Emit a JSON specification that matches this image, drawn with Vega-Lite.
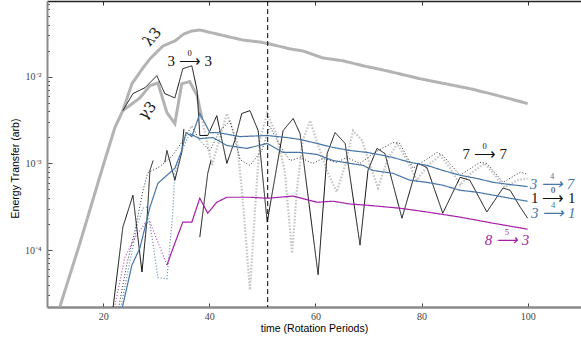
{
 "$schema": "https://vega.github.io/schema/vega-lite/v6.json",
 "width": 534, "height": 306,
 "autosize": {"type": "none"},
 "padding": {"left": 47, "top": 1, "right": 0, "bottom": 33},
 "background": "white",
 "config": {"view": {"stroke": null}, "axis": {"grid": false}},
 "resolve": {"axis": {"x": "independent", "y": "independent"}},
 "datasets": {
  "lines": [
   {"s":"L","k":"grey","t":11.6,"v":2.0e-5},{"s":"L","k":"grey","t":15.6,"v":1.2e-4},{"s":"L","k":"grey","t":20.0,"v":9.5e-4},{"s":"L","k":"grey","t":22.2,"v":2.6e-3},{"s":"L","k":"grey","t":23.7,"v":4.07e-3},{"s":"L","k":"grey","t":25.4,"v":8.3e-3},{"s":"L","k":"grey","t":27.5,"v":1.27e-2},{"s":"L","k":"grey","t":28.8,"v":1.61e-2},{"s":"L","k":"grey","t":31.25,"v":2.27e-2},{"s":"L","k":"grey","t":33.5,"v":2.59e-2},{"s":"L","k":"grey","t":35.2,"v":3.12e-2},{"s":"L","k":"grey","t":36.7,"v":3.38e-2},{"s":"L","k":"grey","t":38.2,"v":3.47e-2},{"s":"L","k":"grey","t":41.4,"v":3.12e-2},{"s":"L","k":"grey","t":46.3,"v":2.66e-2},{"s":"L","k":"grey","t":49.5,"v":2.52e-2},{"s":"L","k":"grey","t":51.4,"v":2.39e-2},{"s":"L","k":"grey","t":55.2,"v":2.10e-2},{"s":"L","k":"grey","t":57.6,"v":1.99e-2},{"s":"L","k":"grey","t":61.4,"v":1.65e-2},{"s":"L","k":"grey","t":65.2,"v":1.53e-2},{"s":"L","k":"grey","t":69.0,"v":1.34e-2},{"s":"L","k":"grey","t":72.7,"v":1.20e-2},{"s":"L","k":"grey","t":75.9,"v":1.08e-2},{"s":"L","k":"grey","t":79.7,"v":9.5e-3},{"s":"L","k":"grey","t":84.5,"v":8.3e-3},{"s":"L","k":"grey","t":89.1,"v":7.3e-3},{"s":"L","k":"grey","t":92.9,"v":6.4e-3},{"s":"L","k":"grey","t":96.1,"v":5.7e-3},{"s":"L","k":"grey","t":100,"v":4.9e-3},
   {"s":"G1","k":"grey","t":23.7,"v":4.07e-3},{"s":"G1","k":"grey","t":26.9,"v":5.7e-3},{"s":"G1","k":"grey","t":28.8,"v":7.9e-3},{"s":"G1","k":"grey","t":30.3,"v":8.5e-3},{"s":"G1","k":"grey","t":32.0,"v":3.86e-3},{"s":"G1","k":"grey","t":33.5,"v":2.88e-3},{"s":"G1","k":"grey","t":34.8,"v":8.3e-3},{"s":"G1","k":"grey","t":36.3,"v":8.8e-3},{"s":"G1","k":"grey","t":37.7,"v":6.05e-3},{"s":"G1","k":"grey","t":38.6,"v":3.3e-3},
   {"s":"G2","k":"greydot","t":38.6,"v":3.3e-3},{"s":"G2","k":"greydot","t":40.5,"v":9.5e-4},{"s":"G2","k":"greydot","t":43.3,"v":3.76e-3},{"s":"G2","k":"greydot","t":45.2,"v":1.84e-3},{"s":"G2","k":"greydot","t":46.3,"v":3.76e-4},{"s":"G2","k":"greydot","t":47.65,"v":3.47e-5},{"s":"G2","k":"greydot","t":48.6,"v":2.88e-4},{"s":"G2","k":"greydot","t":49.5,"v":1.84e-3},{"s":"G2","k":"greydot","t":50.9,"v":3.76e-3},{"s":"G2","k":"greydot","t":52.7,"v":2.1e-3},{"s":"G2","k":"greydot","t":54.2,"v":8.3e-4},{"s":"G2","k":"greydot","t":55.6,"v":9.2e-5},{"s":"G2","k":"greydot","t":56.5,"v":4.9e-4},{"s":"G2","k":"greydot","t":57.6,"v":1.84e-3},{"s":"G2","k":"greydot","t":59.0,"v":3.12e-3},{"s":"G2","k":"greydot","t":60.5,"v":1.61e-3},{"s":"G2","k":"greydot","t":62.3,"v":7.9e-4},{"s":"G2","k":"greydot","t":64.0,"v":4.7e-4},{"s":"G2","k":"greydot","t":65.6,"v":9.5e-4},{"s":"G2","k":"greydot","t":67.1,"v":2.39e-3},{"s":"G2","k":"greydot","t":68.8,"v":1.84e-3},{"s":"G2","k":"greydot","t":70.3,"v":9.5e-4},{"s":"G2","k":"greydot","t":71.8,"v":5.2e-4},{"s":"G2","k":"greydot","t":73.5,"v":1.08e-3},{"s":"G2","k":"greydot","t":75.4,"v":1.70e-3},{"s":"G2","k":"greydot","t":77.3,"v":1.08e-3},{"s":"G2","k":"greydot","t":79.1,"v":6.4e-4},{"s":"G2","k":"greydot","t":81.2,"v":9.5e-4},{"s":"G2","k":"greydot","t":83.5,"v":1.24e-3},{"s":"G2","k":"greydot","t":85.4,"v":8.8e-4},{"s":"G2","k":"greydot","t":87.3,"v":5.6e-4},{"s":"G2","k":"greydot","t":89.4,"v":7.8e-4},{"s":"G2","k":"greydot","t":91.9,"v":1.0e-3},{"s":"G2","k":"greydot","t":93.8,"v":7.3e-4},{"s":"G2","k":"greydot","t":95.7,"v":5.3e-4},{"s":"G2","k":"greydot","t":98.0,"v":6.4e-4},{"s":"G2","k":"greydot","t":100,"v":6.7e-4},
   {"s":"K","k":"blackdot","t":22.8,"v":2.0e-5},{"s":"K","k":"blackdot","t":24.5,"v":7.1e-5},{"s":"K","k":"blackdot","t":26.0,"v":1.7e-4},{"s":"K","k":"blackdot","t":27.5,"v":4.9e-4},{"s":"K","k":"blackdot","t":28.4,"v":7.8e-4},{"s":"K","k":"blackdot","t":30.7,"v":9.2e-4},{"s":"K","k":"blackdot","t":33.1,"v":1.24e-3},{"s":"K","k":"blackdot","t":35.0,"v":1.84e-3},{"s":"K","k":"blackdot","t":36.7,"v":2.7e-3},{"s":"K","k":"blackdot","t":38.2,"v":1.84e-3},{"s":"K","k":"blackdot","t":40.1,"v":1.41e-3},{"s":"K","k":"blackdot","t":42.0,"v":2.39e-3},{"s":"K","k":"blackdot","t":43.9,"v":3.1e-3},{"s":"K","k":"blackdot","t":45.8,"v":1.1e-3},{"s":"K","k":"blackdot","t":47.65,"v":9.5e-4},{"s":"K","k":"blackdot","t":49.9,"v":1.41e-3},{"s":"K","k":"blackdot","t":51.4,"v":2.7e-3},{"s":"K","k":"blackdot","t":53.3,"v":1.61e-3},{"s":"K","k":"blackdot","t":55.2,"v":1.08e-3},{"s":"K","k":"blackdot","t":57.1,"v":1.17e-3},{"s":"K","k":"blackdot","t":59.5,"v":1.0e-3},{"s":"K","k":"blackdot","t":61.4,"v":1.14e-3},{"s":"K","k":"blackdot","t":64.0,"v":1.03e-3},{"s":"K","k":"blackdot","t":65.9,"v":1.17e-3},{"s":"K","k":"blackdot","t":68.4,"v":1.0e-3},{"s":"K","k":"blackdot","t":71.2,"v":1.34e-3},{"s":"K","k":"blackdot","t":74.6,"v":1.74e-3},{"s":"K","k":"blackdot","t":75.9,"v":1.70e-3},{"s":"K","k":"blackdot","t":78.4,"v":8.8e-4},{"s":"K","k":"blackdot","t":80.6,"v":1.08e-3},{"s":"K","k":"blackdot","t":82.9,"v":1.34e-3},{"s":"K","k":"blackdot","t":84.0,"v":1.24e-3},{"s":"K","k":"blackdot","t":87.25,"v":7.3e-4},{"s":"K","k":"blackdot","t":91.0,"v":1.03e-3},{"s":"K","k":"blackdot","t":92.3,"v":1.0e-3},{"s":"K","k":"blackdot","t":95.35,"v":6.05e-4},{"s":"K","k":"blackdot","t":98.6,"v":7.9e-4},{"s":"K","k":"blackdot","t":100,"v":7.5e-4},
   {"s":"W0","k":"bluedot","t":23.2,"v":2.0e-5},{"s":"W0","k":"bluedot","t":24.7,"v":5.9e-5},{"s":"W0","k":"bluedot","t":26.5,"v":2.04e-4},{"s":"W0","k":"bluedot","t":27.5,"v":3.04e-4},{"s":"W0","k":"bluedot","t":28.2,"v":3.12e-4},{"s":"W0","k":"bluedot","t":29.2,"v":1.41e-4},{"s":"W0","k":"bluedot","t":30.3,"v":4.8e-5},{"s":"W0","k":"bluedot","t":32.0,"v":4.65e-5},{"s":"W0","k":"bluedot","t":33.1,"v":2.66e-4},{"s":"W0","k":"bluedot","t":33.5,"v":7.9e-4},{"s":"W0","k":"bluedot","t":34.8,"v":1.41e-3},{"s":"W0","k":"bluedot","t":36.3,"v":2.21e-3},
   {"s":"M0","k":"magdot","t":22.0,"v":2.0e-5},{"s":"M0","k":"magdot","t":24.1,"v":8.3e-5},{"s":"M0","k":"magdot","t":26.0,"v":1.41e-4},{"s":"M0","k":"magdot","t":27.9,"v":2.04e-4},{"s":"M0","k":"magdot","t":28.8,"v":2.1e-4},{"s":"M0","k":"magdot","t":32.0,"v":6.7e-5},
   {"s":"B1","k":"black","t":23.7,"v":4.07e-3},{"s":"B1","k":"black","t":25.6,"v":6.4e-3},{"s":"B1","k":"black","t":27.9,"v":7.5e-3},{"s":"B1","k":"black","t":30.1,"v":1.03e-2},{"s":"B1","k":"black","t":31.6,"v":6.4e-3},{"s":"B1","k":"black","t":33.5,"v":5.7e-3},{"s":"B1","k":"black","t":35.0,"v":1.24e-2},{"s":"B1","k":"black","t":36.7,"v":1.34e-2},{"s":"B1","k":"black","t":37.7,"v":6.9e-3},{"s":"B1","k":"black","t":38.2,"v":2.1e-3},{"s":"B1","k":"black","t":39.7,"v":2.1e-3},{"s":"B1","k":"black","t":41.4,"v":3.56e-3},{"s":"B1","k":"black","t":43.3,"v":1.0e-3},{"s":"B1","k":"black","t":44.8,"v":1.84e-3},{"s":"B1","k":"black","t":46.1,"v":3.76e-3},{"s":"B1","k":"black","t":47.65,"v":4.07e-3},{"s":"B1","k":"black","t":49.2,"v":2.39e-3},{"s":"B1","k":"black","t":50.9,"v":2.1e-4},{"s":"B1","k":"black","t":53.9,"v":2.39e-3},{"s":"B1","k":"black","t":55.8,"v":3.3e-3},{"s":"B1","k":"black","t":57.1,"v":2.21e-3},{"s":"B1","k":"black","t":60.5,"v":5.2e-5},{"s":"B1","k":"black","t":62.2,"v":1.3e-3},{"s":"B1","k":"black","t":63.7,"v":2.27e-3},{"s":"B1","k":"black","t":65.6,"v":1.70e-3},{"s":"B1","k":"black","t":68.4,"v":1.14e-4},{"s":"B1","k":"black","t":69.9,"v":8.3e-4},{"s":"B1","k":"black","t":71.6,"v":1.49e-3},{"s":"B1","k":"black","t":73.1,"v":1.30e-3},{"s":"B1","k":"black","t":76.3,"v":2.33e-4},{"s":"B1","k":"black","t":79.3,"v":1.0e-3},{"s":"B1","k":"black","t":81.0,"v":9.0e-4},{"s":"B1","k":"black","t":84.0,"v":2.66e-4},{"s":"B1","k":"black","t":87.25,"v":6.9e-4},{"s":"B1","k":"black","t":89.1,"v":6.4e-4},{"s":"B1","k":"black","t":92.3,"v":2.75e-4},{"s":"B1","k":"black","t":95.35,"v":5.2e-4},{"s":"B1","k":"black","t":96.7,"v":4.9e-4},{"s":"B1","k":"black","t":98.6,"v":3.12e-4},{"s":"B1","k":"black","t":100,"v":2.33e-4},
   {"s":"B2","k":"black","t":21.8,"v":2.04e-5},{"s":"B2","k":"black","t":23.7,"v":1.84e-4},{"s":"B2","k":"black","t":25.6,"v":4.29e-4},{"s":"B2","k":"black","t":27.3,"v":5.58e-5},{"s":"B2","k":"black","t":28.24,"v":2.21e-4},{"s":"B2","k":"black","t":28.8,"v":8.3e-4},{"s":"B2","k":"black","t":29.4,"v":1.08e-3},
   {"s":"B3","k":"black","t":31.6,"v":1.03e-3},{"s":"B3","k":"black","t":32.0,"v":1.41e-3},{"s":"B3","k":"black","t":33.5,"v":6.4e-4},{"s":"B3","k":"black","t":34.8,"v":1.34e-3},{"s":"B3","k":"black","t":35.2,"v":2.5e-3},
   {"s":"B4","k":"black","t":38.2,"v":1.41e-4},{"s":"B4","k":"black","t":39.7,"v":7.7e-4},{"s":"B4","k":"black","t":40.3,"v":1.08e-3},
   {"s":"U1","k":"blue","t":23.5,"v":2.04e-5},{"s":"U1","k":"blue","t":25.4,"v":6.7e-5},{"s":"U1","k":"blue","t":26.9,"v":1.05e-4},{"s":"U1","k":"blue","t":28.8,"v":3.12e-4},{"s":"U1","k":"blue","t":30.3,"v":5.9e-4},{"s":"U1","k":"blue","t":33.5,"v":8.8e-4},{"s":"U1","k":"blue","t":34.8,"v":1.41e-3},{"s":"U1","k":"blue","t":35.6,"v":2.27e-3},{"s":"U1","k":"blue","t":36.7,"v":2.04e-3},{"s":"U1","k":"blue","t":38.2,"v":3.76e-3},{"s":"U1","k":"blue","t":40.1,"v":2.27e-3},{"s":"U1","k":"blue","t":41.6,"v":2.27e-3},{"s":"U1","k":"blue","t":45.8,"v":2.04e-3},{"s":"U1","k":"blue","t":50.9,"v":2.1e-3},{"s":"U1","k":"blue","t":54.6,"v":1.99e-3},{"s":"U1","k":"blue","t":57.1,"v":1.89e-3},{"s":"U1","k":"blue","t":60.3,"v":1.70e-3},{"s":"U1","k":"blue","t":63.3,"v":1.53e-3},{"s":"U1","k":"blue","t":66.5,"v":1.41e-3},{"s":"U1","k":"blue","t":69.7,"v":1.34e-3},{"s":"U1","k":"blue","t":72.7,"v":1.24e-3},{"s":"U1","k":"blue","t":74.6,"v":1.17e-3},{"s":"U1","k":"blue","t":77.8,"v":1.03e-3},{"s":"U1","k":"blue","t":81.0,"v":9.5e-4},{"s":"U1","k":"blue","t":84.0,"v":8.3e-4},{"s":"U1","k":"blue","t":87.25,"v":7.3e-4},{"s":"U1","k":"blue","t":90.45,"v":6.7e-4},{"s":"U1","k":"blue","t":93.5,"v":6.05e-4},{"s":"U1","k":"blue","t":96.7,"v":5.7e-4},{"s":"U1","k":"blue","t":100,"v":5.4e-4},
   {"s":"W1","k":"blue","t":36.3,"v":2.21e-3},{"s":"W1","k":"blue","t":38.2,"v":1.93e-3},{"s":"W1","k":"blue","t":40.7,"v":1.99e-3},{"s":"W1","k":"blue","t":43.3,"v":1.61e-3},{"s":"W1","k":"blue","t":47.1,"v":1.49e-3},{"s":"W1","k":"blue","t":50.9,"v":1.70e-3},{"s":"W1","k":"blue","t":53.9,"v":1.34e-3},{"s":"W1","k":"blue","t":57.1,"v":1.34e-3},{"s":"W1","k":"blue","t":60.3,"v":1.27e-3},{"s":"W1","k":"blue","t":63.3,"v":1.08e-3},{"s":"W1","k":"blue","t":66.5,"v":1.0e-3},{"s":"W1","k":"blue","t":69.0,"v":9.5e-4},{"s":"W1","k":"blue","t":70.8,"v":8.3e-4},{"s":"W1","k":"blue","t":74.6,"v":7.7e-4},{"s":"W1","k":"blue","t":77.8,"v":6.4e-4},{"s":"W1","k":"blue","t":81.0,"v":6.05e-4},{"s":"W1","k":"blue","t":84.0,"v":5.6e-4},{"s":"W1","k":"blue","t":87.25,"v":4.9e-4},{"s":"W1","k":"blue","t":90.45,"v":4.65e-4},{"s":"W1","k":"blue","t":93.5,"v":4.3e-4},{"s":"W1","k":"blue","t":96.7,"v":3.96e-4},{"s":"W1","k":"blue","t":100,"v":3.66e-4},
   {"s":"M1","k":"mag","t":32.0,"v":6.7e-5},{"s":"M1","k":"mag","t":33.5,"v":1.2e-4},{"s":"M1","k":"mag","t":35.0,"v":2.1e-4},{"s":"M1","k":"mag","t":36.7,"v":2.1e-4},{"s":"M1","k":"mag","t":38.2,"v":3.96e-4},{"s":"M1","k":"mag","t":39.7,"v":2.66e-4},{"s":"M1","k":"mag","t":41.4,"v":3.56e-4},{"s":"M1","k":"mag","t":43.3,"v":4.07e-4},{"s":"M1","k":"mag","t":47.65,"v":4.07e-4},{"s":"M1","k":"mag","t":50.9,"v":3.96e-4},{"s":"M1","k":"mag","t":55.8,"v":4.2e-4},{"s":"M1","k":"mag","t":60.3,"v":3.56e-4},{"s":"M1","k":"mag","t":63.3,"v":3.66e-4},{"s":"M1","k":"mag","t":66.5,"v":3.40e-4},{"s":"M1","k":"mag","t":69.7,"v":3.29e-4},{"s":"M1","k":"mag","t":75.9,"v":3.04e-4},{"s":"M1","k":"mag","t":81.0,"v":2.75e-4},{"s":"M1","k":"mag","t":87.25,"v":2.4e-4},{"s":"M1","k":"mag","t":93.5,"v":2.04e-4},{"s":"M1","k":"mag","t":100,"v":1.74e-4}
  ],
  "vline": [{"t": 51}],
  "greek": [
   {"txt": "λ3", "t": 29.2, "v": 0.029},
   {"txt": "γ3", "t": 28.3, "v": 0.0041}
  ],
  "labels": [
   {"txt": "3 ⟶ 3", "sup": "0", "c": "black", "it": "n", "t": 36.3, "v": 0.0153},
   {"txt": "7 ⟶ 7", "sup": "0", "c": "black", "it": "n", "t": 91.9, "v": 0.0013},
   {"txt": "1 ⟶ 1", "sup": "0", "c": "black", "it": "n", "t": 104.8, "v": 0.000396},
   {"txt": "3 ⟶ 7", "sup": "4", "c": "blue", "it": "y", "t": 104.6, "v": 0.000574},
   {"txt": "3 ⟶ 1", "sup": "4", "c": "blue", "it": "y", "t": 104.8, "v": 0.000266},
   {"txt": "8 ⟶ 3", "sup": "5", "c": "mag", "it": "y", "t": 96.1, "v": 0.00013}
  ]
 },
 "layer": [
  {
   "data": {"name": "lines"},
   "mark": {"type": "line", "clip": true, "strokeCap": "butt", "strokeJoin": "miter"},
   "encoding": {
    "x": {"field": "t", "type": "quantitative",
      "scale": {"domain": [9.4, 110.05], "nice": false, "zero": false},
      "axis": {"orient": "bottom", "values": [20, 40, 60, 80, 100], "title": "time (Rotation Periods)",
        "titleFont": "Liberation Sans", "titleFontSize": 10.5, "titleFontWeight": "normal", "titleColor": "#000",
        "titleY": 21, "titleBaseline": "middle",
        "labelFont": "Liberation Serif", "labelFontSize": 10, "labelColor": "#444", "labelPadding": 8,
        "tickSize": -4, "tickColor": "#444", "tickWidth": 1, "domainColor": "#8a8a8a", "domainWidth": 2.5}},
    "y": {"field": "v", "type": "quantitative",
      "scale": {"type": "log", "domain": [2.2e-5, 0.075], "nice": false},
      "axis": {"orient": "left",
        "values": [3e-5,4e-5,5e-5,6e-5,7e-5,8e-5,9e-5,0.0001,2e-4,3e-4,4e-4,5e-4,6e-4,7e-4,8e-4,9e-4,0.001,2e-3,3e-3,4e-3,5e-3,6e-3,7e-3,8e-3,9e-3,0.01,0.02,0.03,0.04,0.05,0.06,0.07],
        "labelExpr": "datum.value == 0.0001 ? '10⁻⁴' : datum.value == 0.001 ? '10⁻³' : datum.value == 0.01 ? '10⁻²' : ''",
        "title": "Energy Transfer (arb)", "titleFont": "Liberation Sans", "titleFontSize": 10.5, "titleFontWeight": "normal", "titleColor": "#000",
        "titleX": -32, "titleY": 167, "titleAngle": -90, "titleBaseline": "middle", "titleAlign": "center",
        "labelFont": "Liberation Serif", "labelFontSize": 10, "labelColor": "#444", "labelPadding": 11,
        "tickSize": {"condition": {"test": "datum.value == 0.0001 || datum.value == 0.001 || datum.value == 0.01", "value": -5}, "value": -2.5},
        "tickColor": "#555", "tickWidth": 1, "domainColor": "#8a8a8a", "domainWidth": 2}},
    "detail": {"field": "s"},
    "color": {"field": "k", "type": "nominal", "legend": null,
      "scale": {"domain": ["grey","greydot","black","blackdot","blue","bluedot","mag","magdot"],
                "range": ["#b3b3b3","#c6c6c6","#111111","#333333","#4676a8","#5b87b8","#a61ea8","#b548b8"]}},
    "strokeDash": {"field": "k", "type": "nominal", "legend": null,
      "scale": {"type": "ordinal", "domain": ["grey","greydot","black","blackdot","blue","bluedot","mag","magdot"],
                "range": [[1,0],[1.6,1.6],[1,0],[1,2],[1,0],[1,2],[1,0],[1,2]]}},
    "strokeWidth": {"field": "k", "type": "nominal", "legend": null,
      "scale": {"type": "ordinal", "domain": ["grey","greydot","black","blackdot","blue","bluedot","mag","magdot"],
                "range": [3, 2.2, 1, 1, 1.2, 1.2, 1.2, 1.2]}}
   }
  },
  {
   "data": {"name": "vline"},
   "mark": {"type": "rule", "color": "#000", "strokeDash": [5, 3], "strokeWidth": 1},
   "encoding": {
    "x": {"field": "t", "type": "quantitative",
      "axis": {"orient": "top", "values": [20, 40, 60, 80, 100], "labels": false, "title": null,
        "tickSize": -4, "tickColor": "#333", "domainColor": "#222", "domainWidth": 1.5}}
   }
  },
  {
   "data": {"name": "greek"},
   "mark": {"type": "text", "font": "DejaVu Serif", "fontSize": 15, "angle": -48, "align": "center", "baseline": "middle", "color": "#222"},
   "encoding": {
    "x": {"field": "t", "type": "quantitative", "axis": null},
    "y": {"field": "v", "type": "quantitative", "axis": null},
    "text": {"field": "txt"}
   }
  },
  {
   "data": {"name": "labels"},
   "transform": [{"filter": "datum.it == 'n'"}],
   "mark": {"type": "text", "font": "Liberation Serif", "fontSize": 15, "align": "center", "baseline": "middle", "color": "#111"},
   "encoding": {
    "x": {"field": "t", "type": "quantitative", "axis": null},
    "y": {"field": "v", "type": "quantitative", "axis": null},
    "text": {"field": "txt"}
   }
  },
  {
   "data": {"name": "labels"},
   "transform": [{"filter": "datum.it == 'y'"}],
   "mark": {"type": "text", "font": "Liberation Serif", "fontSize": 15, "fontStyle": "italic", "align": "center", "baseline": "middle"},
   "encoding": {
    "x": {"field": "t", "type": "quantitative", "axis": null},
    "y": {"field": "v", "type": "quantitative", "axis": null},
    "text": {"field": "txt"},
    "color": {"field": "c", "type": "nominal", "legend": null, "scale": {"domain": ["black","blue","mag"], "range": ["#111111","#5f8bbd","#b53ab8"]}}
   }
  },
  {
   "data": {"name": "labels"},
   "mark": {"type": "text", "font": "Liberation Serif", "fontSize": 8.5, "align": "center", "baseline": "middle", "dy": -8},
   "encoding": {
    "x": {"field": "t", "type": "quantitative", "axis": null},
    "y": {"field": "v", "type": "quantitative", "axis": null},
    "text": {"field": "sup"},
    "color": {"field": "c", "type": "nominal", "legend": null, "scale": {"domain": ["black","blue","mag"], "range": ["#111111","#5f8bbd","#b53ab8"]}}
   }
  }
 ]
}
